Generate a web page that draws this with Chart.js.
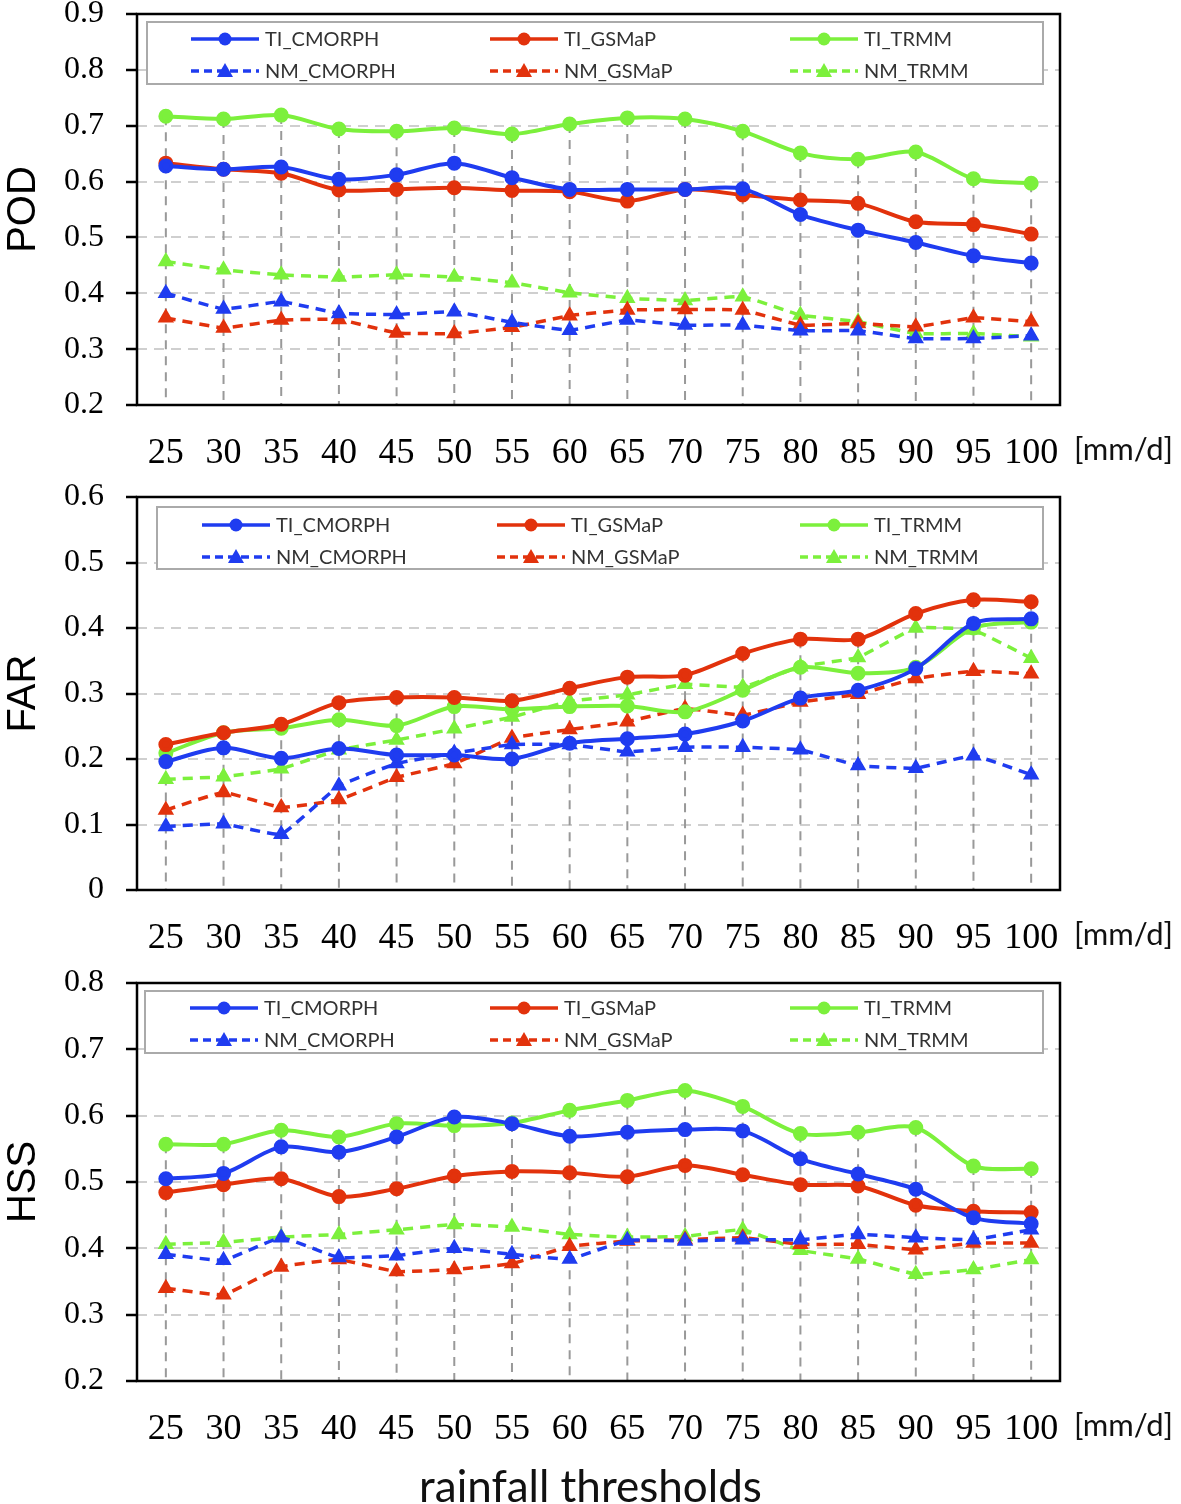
<!DOCTYPE html>
<html>
<head>
<meta charset="utf-8">
<script src="https://cdn.jsdelivr.net/npm/chart.js@4.4.1/dist/chart.umd.min.js"></script>
<style>
  body { margin: 0; width: 1181px; height: 1504px; background: #fff; position: relative; overflow: hidden; }
  .panel { position: absolute; left: 0; width: 1181px; }
  #xtitle { position: absolute; left: 0; width: 1181px; top: 1458px; text-align: center;
            font: 44px Lato, sans-serif; line-height: 54px; color: #111; }
</style>
</head>
<body>
<div class="panel" id="pod-wrap"><canvas id="podChart"></canvas></div>
<div class="panel" id="far-wrap"><canvas id="farChart"></canvas></div>
<div class="panel" id="hss-wrap"><canvas id="hssChart"></canvas></div>
<div id="xtitle">rainfall thresholds</div>

<script>
// --- DANE ---
const thresholds = ['25', '30', '35', '40', '45', '50', '55', '60', '65', '70', '75', '80', '85', '90', '95', '100'];
const seriesNames = ['TI_CMORPH', 'TI_GSMaP', 'TI_TRMM', 'NM_CMORPH', 'NM_GSMaP', 'NM_TRMM'];

// POD
const podTiCmorph = [0.628, 0.622, 0.626, 0.604, 0.612, 0.633, 0.607, 0.586, 0.586, 0.586, 0.587, 0.541, 0.513, 0.491, 0.467, 0.454];
const podTiGsmap  = [0.633, 0.622, 0.615, 0.585, 0.586, 0.589, 0.584, 0.582, 0.565, 0.586, 0.576, 0.567, 0.561, 0.528, 0.523, 0.506];
const podTiTrmm   = [0.717, 0.712, 0.719, 0.694, 0.690, 0.696, 0.685, 0.703, 0.714, 0.712, 0.690, 0.651, 0.640, 0.653, 0.605, 0.597];
const podNmCmorph = [0.400, 0.372, 0.385, 0.364, 0.362, 0.367, 0.348, 0.334, 0.352, 0.343, 0.343, 0.333, 0.333, 0.319, 0.319, 0.324];
const podNmGsmap  = [0.356, 0.338, 0.352, 0.353, 0.329, 0.328, 0.339, 0.360, 0.370, 0.371, 0.370, 0.343, 0.346, 0.340, 0.356, 0.349];
const podNmTrmm   = [0.457, 0.442, 0.433, 0.429, 0.433, 0.429, 0.419, 0.401, 0.391, 0.387, 0.394, 0.361, 0.349, 0.328, 0.328, 0.322];

// FAR
const farTiCmorph = [0.196, 0.217, 0.201, 0.216, 0.206, 0.206, 0.200, 0.224, 0.231, 0.238, 0.258, 0.293, 0.305, 0.338, 0.407, 0.414];
const farTiGsmap  = [0.222, 0.240, 0.253, 0.286, 0.294, 0.294, 0.289, 0.308, 0.325, 0.328, 0.361, 0.383, 0.383, 0.422, 0.443, 0.440];
const farTiTrmm   = [0.209, 0.240, 0.247, 0.260, 0.251, 0.280, 0.276, 0.280, 0.281, 0.272, 0.305, 0.340, 0.331, 0.340, 0.400, 0.409];
const farNmCmorph = [0.097, 0.101, 0.085, 0.159, 0.193, 0.209, 0.222, 0.222, 0.211, 0.218, 0.218, 0.214, 0.190, 0.186, 0.205, 0.176];
const farNmGsmap  = [0.122, 0.149, 0.126, 0.138, 0.172, 0.193, 0.232, 0.245, 0.257, 0.277, 0.267, 0.287, 0.299, 0.323, 0.334, 0.330];
const farNmTrmm   = [0.169, 0.173, 0.185, 0.214, 0.229, 0.246, 0.264, 0.288, 0.298, 0.314, 0.310, 0.341, 0.355, 0.400, 0.397, 0.354];

// HSS
const hssTiCmorph = [0.505, 0.513, 0.553, 0.545, 0.568, 0.598, 0.588, 0.569, 0.575, 0.579, 0.577, 0.535, 0.512, 0.489, 0.446, 0.437];
const hssTiGsmap  = [0.484, 0.496, 0.505, 0.478, 0.490, 0.509, 0.516, 0.514, 0.508, 0.525, 0.511, 0.496, 0.494, 0.465, 0.456, 0.454];
const hssTiTrmm   = [0.557, 0.557, 0.578, 0.568, 0.588, 0.585, 0.589, 0.608, 0.623, 0.638, 0.614, 0.573, 0.575, 0.582, 0.524, 0.520];
const hssNmCmorph = [0.391, 0.382, 0.416, 0.386, 0.389, 0.400, 0.391, 0.384, 0.412, 0.411, 0.413, 0.413, 0.421, 0.416, 0.413, 0.428];
const hssNmGsmap  = [0.340, 0.330, 0.372, 0.383, 0.365, 0.368, 0.377, 0.403, 0.411, 0.413, 0.416, 0.406, 0.406, 0.398, 0.408, 0.408];
const hssNmTrmm   = [0.406, 0.409, 0.417, 0.421, 0.428, 0.436, 0.432, 0.421, 0.417, 0.418, 0.428, 0.397, 0.384, 0.361, 0.368, 0.383];

// kolory: CMORPH, GSMaP, TRMM
const colors = ['#1f3cf0', '#e2320c', '#7cf03c'];

const TOP_PAD = 50; // zapas nad obszarem wykresu (etykiety osi Y)

// --- PLUGIN: linie opadowe, legenda, ramka ---
const panelDecor = {
    id: 'panelDecor',
    beforeDatasetsDraw(chart, args, opts) {
        const { ctx, chartArea: a, scales: { x, y } } = chart;
        ctx.save();

        // pionowe przerywane linie od najwyższej serii do osi X
        ctx.strokeStyle = '#999';
        ctx.lineWidth = 2;
        ctx.setLineDash([9, 7]);
        thresholds.forEach((t, i) => {
            const top = Math.max(...chart.data.datasets.map(d => d.data[i]));
            const px = x.getPixelForValue(i);
            ctx.beginPath();
            ctx.moveTo(px, y.getPixelForValue(top));
            ctx.lineTo(px, a.bottom);
            ctx.stroke();
        });

        // legenda (2 wiersze x 3 kolumny)
        const bx = a.left + opts.boxLeft, by = a.top + opts.boxTop;
        const bw = 906 - opts.boxLeft, bh = 62;
        ctx.setLineDash([]);
        ctx.fillStyle = '#fff';
        ctx.fillRect(bx, by, bw, bh);
        ctx.strokeStyle = '#aaa';
        ctx.lineWidth = 2;
        ctx.strokeRect(bx, by, bw, bh);

        chart.data.datasets.forEach((ds, j) => {
            const col = j % 3, row = Math.floor(j / 3);
            const sx = a.left + opts.cols[col];
            const sy = a.top + opts.rows[row];
            ctx.strokeStyle = ds.borderColor;
            ctx.fillStyle = ds.borderColor;
            ctx.lineWidth = 3.5;
            ctx.setLineDash(row ? [8, 5] : []);
            ctx.beginPath();
            ctx.moveTo(sx, sy);
            ctx.lineTo(sx + 68, sy);
            ctx.stroke();
            ctx.setLineDash([]);
            ctx.beginPath();
            if (row) {
                ctx.moveTo(sx + 34, sy - 8);
                ctx.lineTo(sx + 42, sy + 6);
                ctx.lineTo(sx + 26, sy + 6);
                ctx.closePath();
            } else {
                ctx.arc(sx + 34, sy, 6.5, 0, Math.PI * 2);
            }
            ctx.fill();
            ctx.fillStyle = '#333';
            ctx.font = '20px Lato, sans-serif';
            ctx.textBaseline = 'middle';
            ctx.fillText(ds.label, sx + 74, sy + 1);
        });
        ctx.restore();
    },
    afterDraw(chart) {
        const { ctx, chartArea: a } = chart;
        ctx.save();
        ctx.strokeStyle = '#000';
        ctx.lineWidth = 2.5;
        ctx.strokeRect(a.left, a.top, a.right - a.left, a.bottom - a.top);
        ctx.fillStyle = '#111';
        ctx.font = '31px Lato, sans-serif';
        ctx.textBaseline = 'middle';
        ctx.fillText('[mm/d]', a.right + 14, a.bottom + 45);
        ctx.restore();
    }
};

function makeDatasets(values) {
    return values.map((vals, j) => {
        const nm = j >= 3;
        const c = colors[j % 3];
        return {
            label: seriesNames[j],
            data: vals,
            borderColor: c,
            backgroundColor: c,
            pointBackgroundColor: c,
            pointBorderColor: c,
            borderWidth: nm ? 3.5 : 4,
            borderDash: nm ? [10, 7] : [],
            pointStyle: nm ? 'triangle' : 'circle',
            pointRadius: nm ? 6 : 5.5,
            tension: nm ? 0.1 : 0.3
        };
    });
}

function buildChart(canvasId, wrapId, plotTop, plotBottom, title, yMin, yMax, values, legendOpts) {
    const wrap = document.getElementById(wrapId);
    wrap.style.top = (plotTop - TOP_PAD) + 'px';
    wrap.style.height = (plotBottom - plotTop + TOP_PAD + 85) + 'px';

    return new Chart(document.getElementById(canvasId), {
        type: 'line',
        data: { labels: thresholds, datasets: makeDatasets(values) },
        plugins: [panelDecor],
        options: {
            responsive: true,
            maintainAspectRatio: false,
            animation: false,
            layout: { padding: { top: TOP_PAD, right: 121, left: 0, bottom: 0 } },
            plugins: {
                legend: { display: false },
                tooltip: { enabled: false },
                panelDecor: legendOpts
            },
            scales: {
                x: {
                    offset: true,
                    grid: { display: false, drawTicks: false },
                    border: { display: false },
                    ticks: {
                        padding: 27,
                        color: '#000',
                        font: { family: 'Liberation Serif', size: 36 },
                        maxRotation: 0,
                        autoSkip: false
                    },
                    afterFit(scale) { scale.height = 85; }
                },
                y: {
                    min: yMin,
                    max: yMax,
                    border: { display: false, dash: [10, 7] },
                    grid: {
                        color: '#cfcfcf',
                        lineWidth: 2,
                        tickColor: '#000',
                        tickWidth: 2.5,
                        tickLength: 11,
                        tickBorderDash: []
                    },
                    ticks: {
                        stepSize: 0.1,
                        padding: 22,
                        color: '#000',
                        font: { family: 'Liberation Serif', size: 32 },
                        callback: v => (Math.abs(v) < 1e-9 ? '0' : v.toFixed(1))
                    },
                    title: {
                        display: true,
                        text: title,
                        color: '#000',
                        padding: 0,
                        font: { family: 'Liberation Sans', size: 40 }
                    },
                    afterFit(scale) { scale.width = 137; }
                }
            }
        }
    });
}

// Init
buildChart('podChart', 'pod-wrap', 14, 405, 'POD', 0.2, 0.9,
    [podTiCmorph, podTiGsmap, podTiTrmm, podNmCmorph, podNmGsmap, podNmTrmm],
    { boxLeft: 10, boxTop: 8, rows: [25, 57], cols: [54, 353, 653] });

buildChart('farChart', 'far-wrap', 497, 890, 'FAR', 0, 0.6,
    [farTiCmorph, farTiGsmap, farTiTrmm, farNmCmorph, farNmGsmap, farNmTrmm],
    { boxLeft: 20, boxTop: 10, rows: [28, 60], cols: [65, 360, 663] });

buildChart('hssChart', 'hss-wrap', 983, 1381, 'HSS', 0.2, 0.8,
    [hssTiCmorph, hssTiGsmap, hssTiTrmm, hssNmCmorph, hssNmGsmap, hssNmTrmm],
    { boxLeft: 8, boxTop: 8, rows: [25, 57], cols: [53, 353, 653] });
</script>
</body>
</html>
